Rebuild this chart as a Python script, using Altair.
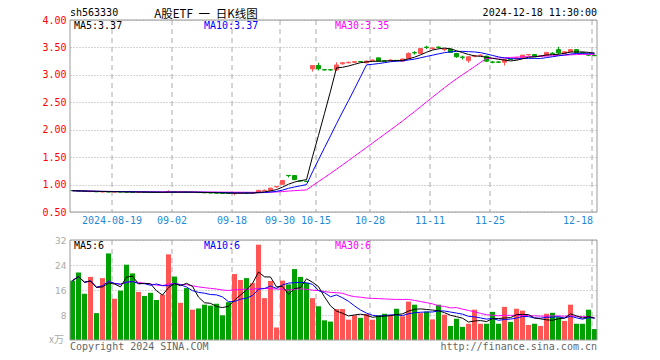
import altair as alt
import pandas as pd

# ---------------- data ----------------
opens = [0.892, 0.888, 0.882, 0.872, 0.874, 0.866, 0.870, 0.865, 0.868, 0.866,
         0.864, 0.860, 0.864, 0.861, 0.860, 0.857, 0.862, 0.868, 0.860, 0.862,
         0.856, 0.858, 0.854, 0.851, 0.848, 0.846, 0.843, 0.838, 0.842, 0.849,
         0.845, 0.856, 0.890, 0.895, 0.960, 1.005, 1.168, 1.165, 1.070, 1.060,
         3.110, 3.170, 3.095, 3.095, 3.090, 3.200, 3.220, 3.230, 3.245, 3.220,
         3.260, 3.310, 3.255, 3.260, 3.265, 3.250, 3.300, 3.405, 3.390, 3.505,
         3.480, 3.505, 3.460, 3.470, 3.390, 3.325, 3.260, 3.340, 3.355, 3.340,
         3.235, 3.235, 3.230, 3.285, 3.290, 3.310, 3.365, 3.370, 3.340, 3.350,
         3.395, 3.460, 3.390, 3.420, 3.460, 3.405, 3.365, 3.355]
highs = [0.895, 0.890, 0.884, 0.878, 0.876, 0.872, 0.872, 0.870, 0.870, 0.868,
         0.866, 0.868, 0.866, 0.864, 0.862, 0.864, 0.895, 0.870, 0.866, 0.864,
         0.862, 0.860, 0.856, 0.853, 0.850, 0.848, 0.846, 0.845, 0.852, 0.852,
         0.856, 0.900, 0.910, 0.940, 0.965, 1.080, 1.170, 1.170, 1.080, 1.070,
         3.170, 3.220, 3.100, 3.100, 3.230, 3.230, 3.240, 3.250, 3.250, 3.260,
         3.280, 3.310, 3.260, 3.280, 3.270, 3.290, 3.410, 3.430, 3.480, 3.530,
         3.500, 3.520, 3.480, 3.480, 3.400, 3.350, 3.330, 3.360, 3.370, 3.350,
         3.250, 3.250, 3.280, 3.290, 3.330, 3.360, 3.380, 3.370, 3.350, 3.410,
         3.410, 3.510, 3.430, 3.460, 3.470, 3.420, 3.380, 3.370]
lows = [0.884, 0.878, 0.872, 0.870, 0.866, 0.864, 0.862, 0.862, 0.862, 0.860,
        0.856, 0.856, 0.855, 0.855, 0.854, 0.855, 0.860, 0.858, 0.856, 0.854,
        0.852, 0.850, 0.846, 0.844, 0.842, 0.838, 0.836, 0.805, 0.838, 0.840,
        0.842, 0.852, 0.885, 0.890, 0.940, 1.000, 1.130, 1.085, 1.055, 1.045,
        3.060, 3.080, 3.080, 3.075, 3.070, 3.190, 3.210, 3.220, 3.230, 3.210,
        3.250, 3.250, 3.240, 3.250, 3.250, 3.240, 3.290, 3.370, 3.380, 3.470,
        3.460, 3.480, 3.430, 3.400, 3.310, 3.280, 3.220, 3.320, 3.340, 3.240,
        3.210, 3.220, 3.170, 3.270, 3.280, 3.300, 3.350, 3.320, 3.330, 3.340,
        3.380, 3.370, 3.380, 3.410, 3.400, 3.390, 3.350, 3.340]
closes = [0.888, 0.882, 0.876, 0.874, 0.868, 0.869, 0.866, 0.868, 0.865, 0.862,
          0.860, 0.864, 0.860, 0.858, 0.857, 0.860, 0.872, 0.862, 0.863, 0.858,
          0.859, 0.854, 0.850, 0.848, 0.845, 0.842, 0.840, 0.842, 0.848, 0.845,
          0.852, 0.895, 0.895, 0.935, 0.965, 1.075, 1.163, 1.090, 1.065, 1.055,
          3.170, 3.110, 3.090, 3.090, 3.180, 3.220, 3.230, 3.240, 3.240, 3.250,
          3.270, 3.250, 3.250, 3.270, 3.260, 3.290, 3.390, 3.400, 3.480, 3.500,
          3.490, 3.500, 3.470, 3.410, 3.330, 3.320, 3.330, 3.345, 3.360, 3.250,
          3.230, 3.230, 3.280, 3.280, 3.310, 3.360, 3.370, 3.330, 3.345, 3.410,
          3.390, 3.400, 3.420, 3.460, 3.410, 3.400, 3.360, 3.350]
volumes = [19.0, 21.6, 14.8, 20.2, 8.6, 19.8, 27.7, 13.2, 15.8, 24.1,
           21.3, 15.4, 14.1, 15.1, 12.8, 14.5, 27.4, 20.3, 11.9, 16.6,
           9.7, 10.1, 11.3, 11.0, 11.6, 7.9, 12.1, 21.1, 19.2, 19.8,
           18.2, 30.5, 13.4, 18.9, 4.0, 19.0, 17.8, 22.7, 20.2, 18.3,
           13.4, 10.8, 6.3, 5.9, 9.9, 9.9, 6.5, 7.9, 7.1, 8.3,
           6.5, 7.9, 8.4, 7.9, 10.0, 7.6, 12.3, 11.3, 8.6, 9.1,
           6.6, 11.3, 8.1, 4.5, 6.8, 4.2, 5.2, 9.7, 5.2, 5.2,
           9.0, 5.2, 10.6, 5.8, 10.0, 9.4, 4.8, 5.2, 4.5, 8.4,
           8.7, 7.3, 6.1, 11.3, 5.2, 5.2, 9.7, 3.5]

tick_idx = [7, 17, 27, 35, 41, 50, 60, 70]
tick_lab = ["2024-08-19", "09-02", "09-18", "09-30", "10-15", "10-28", "11-11", "11-25"]
last_idx = [87]
last_lab = ["12-18"]
price_ticks = [0.5, 1.0, 1.5, 2.0, 2.5, 3.0, 3.5, 4.0]
vol_ticks = [8, 16, 24, 32]

header_code = "sh563330"
header_title = "A股ETF\u2002一\u2002日K线图"
header_time = "2024-12-18 11:30:00"
price_legend = ["MA5:3.37", "MA10:3.37", "MA30:3.35"]
vol_legend = ["MA5:6", "MA10:6", "MA30:6"]
vol_unit = "x万"
foot_left = "Copyright 2024 SINA.COM"
foot_right = "http://finance.sina.com.cn"

# ---------------- styling ----------------
RED, GREEN = "#ff5555", "#00a000"
MA_COLORS = ["#000000", "#0000ff", "#ff00ff"]
GRID = "#aaaaaa"
BORDER = "#999999"
MONO = "DejaVu Sans Mono"

W = 527            # plot width: 6 px per trading day
PX = 6
XMAX = W / PX
PH = 192           # price panel height
VT, VB = 220, 320  # volume panel top / bottom
H = VB

df = pd.DataFrame({
    "i": list(range(len(closes))),
    "open": opens, "high": highs, "low": lows, "close": closes, "vol": volumes,
})
ticks_df = pd.DataFrame({"idx": tick_idx + last_idx, "label": tick_lab + last_lab})
one = pd.DataFrame({"a": [0]})

xs = alt.Scale(domain=[0, XMAX], nice=False, zero=False)
ys = alt.Scale(domain=[0.5, 4.0], range=[PH, 0], nice=False, zero=False)
vs = alt.Scale(domain=[0, 32], range=[VB, VT], nice=False, zero=False)

price_axis = alt.Axis(values=price_ticks, format=".2f", labelColor="#ff0000",
                      labelFont=MONO, labelFontSize=10, ticks=False, domain=False,
                      grid=True, gridColor=GRID, gridDash=[1, 2], labelPadding=4,
                      title=None, orient="left")
vol_axis = alt.Axis(values=vol_ticks, labelColor="#aaaaaa", labelFont="DejaVu Sans",
                    labelFontSize=9, ticks=False, domain=False, grid=True,
                    gridColor=GRID, gridDash=[1, 2], labelPadding=4, title=None,
                    orient="left")

dir_scale = alt.Scale(domain=["up", "down"], range=[RED, GREEN])
col = alt.Color("dir:N", scale=dir_scale, legend=None)

base = alt.Chart(df).transform_calculate(
    dir="datum.close >= datum.open ? 'up' : 'down'",
    xc=f"datum.i + 2.5/{PX}",
    xb=f"datum.i + 0.5/{PX}",
    xe=f"datum.i + 4.5/{PX}",
    xv=f"datum.i + 5/{PX}",
)

# ---------- price panel ----------
vgrid_p = alt.Chart(ticks_df).mark_rule(color=GRID, strokeDash=[5, 4]).encode(
    x=alt.X("idx:Q", scale=xs, axis=None), y=alt.value(0), y2=alt.value(PH))

wick = base.mark_rule(strokeWidth=1).encode(
    x=alt.X("xc:Q", scale=xs, axis=None),
    y=alt.Y("low:Q", scale=ys, axis=price_axis), y2="high:Q", color=col)

body = base.mark_rect(strokeWidth=1).encode(
    x=alt.X("xb:Q", scale=xs, axis=None), x2="xe:Q",
    y=alt.Y("open:Q", scale=ys, axis=price_axis), y2="close:Q",
    color=col, stroke=alt.Stroke("dir:N", scale=dir_scale, legend=None))


def ma_line(field, n, color, yscale, axis, name):
    return base.transform_window(
        **{name: f"mean({field})"}, frame=[-(n - 1), 0], sort=[alt.SortField("i")]
    ).mark_line(color=color, strokeWidth=1).encode(
        x=alt.X("xc:Q", scale=xs, axis=None),
        y=alt.Y(f"{name}:Q", scale=yscale, axis=axis))


p_ma30 = ma_line("close", 30, MA_COLORS[2], ys, price_axis, "pma30")
p_ma10 = ma_line("close", 10, MA_COLORS[1], ys, price_axis, "pma10")
p_ma5 = ma_line("close", 5, MA_COLORS[0], ys, price_axis, "pma5")

border_p = alt.Chart(one).mark_rect(fill="transparent", stroke=BORDER, strokeWidth=1).encode(
    x=alt.value(0), x2=alt.value(W), y=alt.value(0), y2=alt.value(PH))

price = alt.layer(vgrid_p, wick, body, p_ma30, p_ma10, p_ma5, border_p)

# ---------- volume panel ----------
vgrid_v = alt.Chart(ticks_df).mark_rule(color=GRID, strokeDash=[5, 4]).encode(
    x=alt.X("idx:Q", scale=xs, axis=None), y=alt.value(VT), y2=alt.value(VB))

vbars = base.mark_rect().encode(
    x=alt.X("i:Q", scale=xs, axis=None), x2="xv:Q",
    y=alt.Y("vol:Q", scale=vs, axis=vol_axis), y2=alt.datum(0), color=col)

v_ma30 = ma_line("vol", 30, MA_COLORS[2], vs, vol_axis, "vma30")
v_ma10 = ma_line("vol", 10, MA_COLORS[1], vs, vol_axis, "vma10")
v_ma5 = ma_line("vol", 5, MA_COLORS[0], vs, vol_axis, "vma5")

border_v = alt.Chart(one).mark_rect(fill="transparent", stroke=BORDER, strokeWidth=1).encode(
    x=alt.value(0), x2=alt.value(W), y=alt.value(VT), y2=alt.value(VB))

volume = alt.layer(vgrid_v, vbars, v_ma30, v_ma10, v_ma5, border_v)

# ---------- texts ----------
def txt(s, x, y, color="#000000", align="left", font=MONO, size=10):
    return alt.Chart(one).mark_text(align=align, baseline="middle", font=font,
                                    fontSize=size, color=color).encode(
        x=alt.value(x), y=alt.value(y), text=alt.value(s))


xlab = alt.Chart(pd.DataFrame({"idx": tick_idx, "label": tick_lab})).mark_text(
    align="center", baseline="middle", font=MONO, fontSize=10, color="#1e8ad6").encode(
    x=alt.X("idx:Q", scale=xs, axis=None), y=alt.value(PH + 9), text="label:N")
xlab_last = alt.Chart(pd.DataFrame({"idx": last_idx, "label": last_lab})).mark_text(
    align="right", baseline="middle", font=MONO, fontSize=10, color="#1e8ad6", dx=1).encode(
    x=alt.X("idx:Q", scale=xs, axis=None), y=alt.value(PH + 9), text="label:N")

texts = [
    txt(header_code, 0, -7),
    txt(header_title, 136, -5.5, align="center", font="Noto Sans CJK SC", size=11.5),
    txt(header_time, W, -7, align="right"),
    txt(price_legend[0], 4, 6, MA_COLORS[0]),
    txt(price_legend[1], 134, 6, MA_COLORS[1]),
    txt(price_legend[2], 265, 6, MA_COLORS[2]),
    txt(vol_legend[0], 4, VT + 6, MA_COLORS[0]),
    txt(vol_legend[1], 134, VT + 6, MA_COLORS[1]),
    txt(vol_legend[2], 265, VT + 6, MA_COLORS[2]),
    txt(vol_unit, -6, VB, "#aaaaaa", align="right", font="Noto Sans CJK SC", size=10),
    txt(foot_left, 0, VB + 6.5, "#666666"),
    txt(foot_right, W, VB + 6.5, "#666666", align="right"),
    xlab, xlab_last,
]

chart = alt.layer(price, volume, *texts).resolve_scale(y="independent").properties(
    width=W, height=H,
    padding={"left": 62, "top": 12, "right": 55, "bottom": 12},
    autosize=alt.AutoSizeParams(type="none"),
).configure_view(strokeWidth=0)

chart.save("out.html", embed_options={"renderer": "svg", "actions": False})
